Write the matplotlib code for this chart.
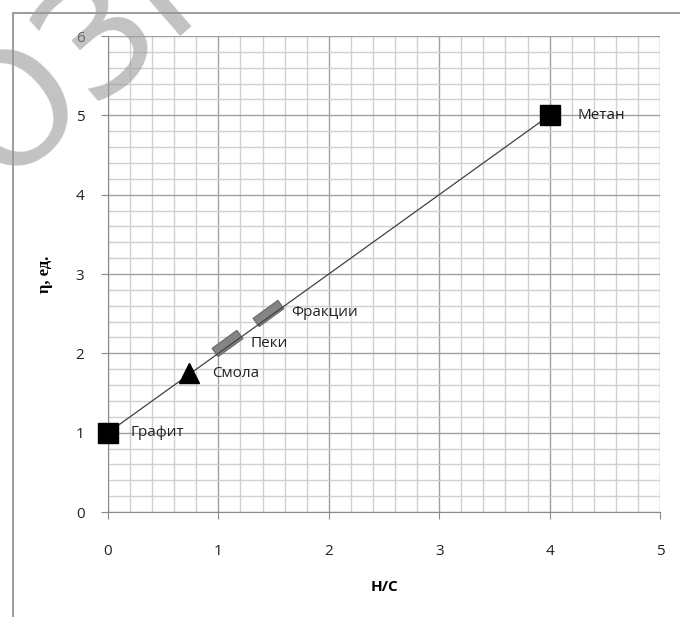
import numpy as np
import matplotlib.pyplot as plt
from matplotlib.patches import Rectangle

# data points (H/C ratio vs eta)
names = ['Графит', 'Смола', 'Пеки', 'Фракции', 'Метан']
hc = [0.0, 0.73, 1.08, 1.45, 4.0]
eta = [1.0, 1.75, 2.13, 2.51, 5.0]
label_dx = [0.2, 0.21, 0.21, 0.21, 0.25]
line_x = [0.0, 4.0]
line_y = [1.0, 5.0]

fig = plt.figure(figsize=(6.8, 6.17), dpi=100)
ax = fig.add_axes([108/680, 1-512/617, 552/680, 476/617])

# outer frame
fig.add_artist(Rectangle((13/680, -0.1), 1.2, 1.1 - 13/617, transform=fig.transFigure,
                         fill=False, edgecolor='#8a8a8a', lw=1.2))

# watermark (cut off at the top-left edge, as in the source image)
fig.text(0.0, 0.70, 'ОЗМ', fontsize=112, color='#9a9a9a', alpha=0.6, rotation=41,
         rotation_mode='anchor', fontfamily='DejaVu Sans', ha='left', va='baseline',
         zorder=10)

ax.set_xlim(0, 5)
ax.set_ylim(0, 6)
ax.set_xticks(np.arange(0, 6, 1))
ax.set_yticks(np.arange(0, 7, 1))
ax.set_xticks(np.arange(0, 5.01, 0.2), minor=True)
ax.set_yticks(np.arange(0, 6.01, 0.2), minor=True)
ax.grid(which='major', color='#a0a0a0', lw=1.0)
ax.grid(which='minor', color='#d0d0d0', lw=1.0)
ax.set_axisbelow(True)
ax.tick_params(which='minor', length=0)
ax.tick_params(which='major', length=5, color='#8a8a8a', labelsize=11)
ax.tick_params(axis='x', pad=18)
ax.tick_params(axis='y', pad=12)
for lab in ax.get_xticklabels() + ax.get_yticklabels():
    lab.set_fontfamily('Open Sans')
    lab.set_color('#222222')
for s in ['left', 'bottom']:
    ax.spines[s].set_color('#8a8a8a')
for s in ['top', 'right']:
    ax.spines[s].set_visible(False)

ax.plot(line_x, line_y, color='#404040', lw=0.9, zorder=3)

# rotated bar marker for the gray points
ang = np.deg2rad(36)
rect = np.array([[-1, -0.33], [1, -0.33], [1, 0.33], [-1, 0.33], [-1, -0.33]])
rot = np.array([[np.cos(ang), -np.sin(ang)], [np.sin(ang), np.cos(ang)]])
bar = rect @ rot.T

ax.plot(hc[0], eta[0], 's', ms=14, color='black', zorder=4, clip_on=False)
ax.plot(hc[4], eta[4], 's', ms=14, color='black', zorder=4)
ax.plot(hc[1], eta[1], '^', ms=14, color='black', zorder=4)
for i in [2, 3]:
    ax.plot(hc[i], eta[i], marker=bar, ms=22, color='#858585', mec='#707070', mew=1, zorder=2)

for i in range(5):
    ax.text(hc[i] + label_dx[i], eta[i], names[i], fontsize=11, fontfamily='Open Sans',
            color='#222222', va='center', ha='left', zorder=5)

ax.set_xlabel('Н/С', fontsize=11, fontweight='bold', fontfamily='Open Sans', labelpad=15)
ax.set_ylabel('η, ед.', fontsize=12, fontweight='bold', fontfamily='Liberation Serif', labelpad=16)

fig.savefig('out.png', dpi=100)
